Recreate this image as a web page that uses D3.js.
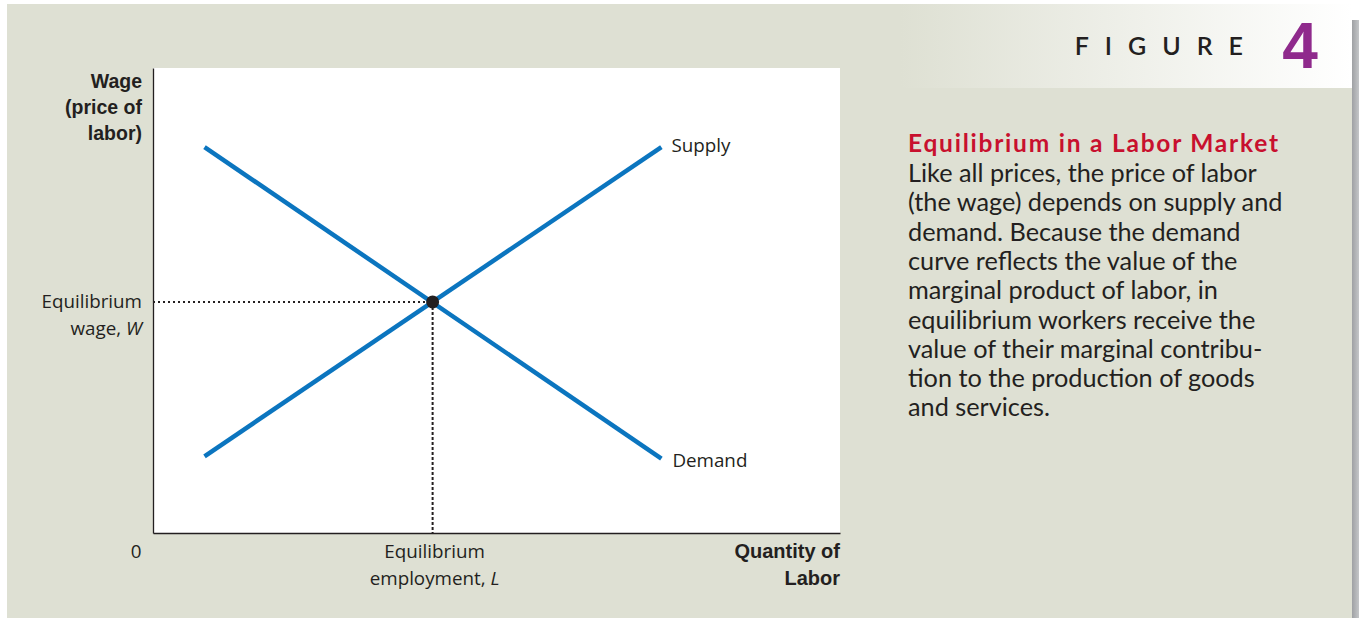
<!DOCTYPE html>
<html><head><meta charset="utf-8">
<script src="https://cdn.jsdelivr.net/npm/d3@7"></script>
<style>
html,body{margin:0;padding:0;background:#fff;}
svg{display:block;}
</style></head>
<body>
<svg id="chart" width="1359" height="618"></svg>
<script>
// ---- data ----
const quantityDomain = [0, 10];
const wageDomain = [0, 10];
const supplyQ = [0.75, 7.4];
const supplyW = [1.65, 8.3];
const demandQ = [0.75, 7.4];
const demandW = [8.3, 1.6];
const equilibrium = [4.07, 4.97];
const seriesNames = ["Supply", "Demand"];
const yAxisTitle = ["Wage", "(price of", "labor)"];
const xAxisTitle = ["Quantity of", "Labor"];
const eqWageLabel = ["Equilibrium", "wage, "];
const eqEmpLabel = ["Equilibrium", "employment, "];
const originLabel = "0";
const figureLabel = "FIGURE";
const figureNumber = "4";
const captionTitle = "Equilibrium in a Labor Market";
const captionLines = [
  "Like all prices, the price of labor",
  "(the wage) depends on supply and",
  "demand. Because the demand",
  "curve reflects the value of the",
  "marginal product of labor, in",
  "equilibrium workers receive the",
  "value of their marginal contribu-",
  "tion to the production of goods",
  "and services."
];

// ---- drawing ----
const svg = d3.select("#chart");
const W = 1359, H = 618;
const plot = {x0: 153, x1: 840, y0: 68, y1: 533};
const bg = "#dee0d3";
const blue = "#0b75bf";
const ink = "#231f20";

const defs = svg.append("defs");
const hg = defs.append("linearGradient").attr("id","hdr").attr("x1","0").attr("x2","1").attr("y1","0").attr("y2","0");
hg.append("stop").attr("offset","0").attr("stop-color",bg);
hg.append("stop").attr("offset","1").attr("stop-color","#ffffff");
const sg = defs.append("linearGradient").attr("id","shd").attr("x1","0").attr("x2","1");
sg.append("stop").attr("offset","0").attr("stop-color","#9fa1a4");
sg.append("stop").attr("offset","1").attr("stop-color","#c4c6c8");

svg.append("rect").attr("width",W).attr("height",H).attr("fill","#fff");
svg.append("rect").attr("x",7).attr("y",4).attr("width",1345).attr("height",614).attr("fill",bg);
svg.append("rect").attr("x",1352).attr("y",20).attr("width",7).attr("height",598).attr("fill","url(#shd)");
svg.append("rect").attr("x",900).attr("y",4).attr("width",452).attr("height",84).attr("fill","url(#hdr)");

// header
svg.append("text").attr("x",1259).attr("y",55).attr("text-anchor","end")
  .attr("font-family","Lato, 'Open Sans', sans-serif").attr("font-size",25).attr("font-weight",600)
  .attr("letter-spacing","16px").attr("fill",ink).text(figureLabel);
svg.append("text").attr("x",1300).attr("y",68).attr("text-anchor","middle")
  .attr("font-family","'Liberation Sans', Arial, sans-serif").attr("font-size",64).attr("font-weight",700)
  .attr("fill","#8f2a8c").text(figureNumber);

// plot bg
svg.append("rect").attr("x",plot.x0).attr("y",plot.y0).attr("width",plot.x1-plot.x0).attr("height",plot.y1-plot.y0).attr("fill","#fff");

const x = d3.scaleLinear().domain(quantityDomain).range([plot.x0, plot.x1]);
const y = d3.scaleLinear().domain(wageDomain).range([plot.y1, plot.y0]);

// axes
const gx = svg.append("g").attr("transform",`translate(0,${plot.y1})`)
  .call(d3.axisBottom(x).tickValues([]).tickSizeOuter(0));
const gy = svg.append("g").attr("transform",`translate(${plot.x0},0)`)
  .call(d3.axisLeft(y).tickValues([]).tickSizeOuter(0));
[gx,gy].forEach(g=>g.select(".domain").attr("stroke",ink).attr("stroke-width",1.3));

// dotted guides
const ex = x(equilibrium[0]), ey = y(equilibrium[1]);
svg.append("line").attr("x1",x(0)).attr("x2",ex).attr("y1",ey).attr("y2",ey)
  .attr("stroke",ink).attr("stroke-width",2).attr("stroke-dasharray","2,3");
svg.append("line").attr("x1",ex).attr("x2",ex).attr("y1",ey).attr("y2",y(0))
  .attr("stroke",ink).attr("stroke-width",2).attr("stroke-dasharray","3,2");

// curves
const line = d3.line().x(d=>x(d[0])).y(d=>y(d[1]));
const supply = supplyQ.map((q,i)=>[q,supplyW[i]]);
const demand = demandQ.map((q,i)=>[q,demandW[i]]);
[supply,demand].forEach(d=>{
  svg.append("path").datum(d).attr("d",line).attr("fill","none")
    .attr("stroke",blue).attr("stroke-width",4.5);
});
svg.append("circle").attr("cx",ex).attr("cy",ey).attr("r",6.5).attr("fill",ink);

const lab = "'Open Sans', 'Liberation Sans', sans-serif";
const labSize = 18.8;
// series labels
svg.append("text").attr("x",x(supplyQ[1])+10).attr("y",y(supplyW[1])+5)
  .attr("font-family",lab).attr("font-size",labSize).attr("fill",ink).text(seriesNames[0]);
svg.append("text").attr("x",x(demandQ[1])+11).attr("y",y(demandW[1])+8)
  .attr("font-family",lab).attr("font-size",labSize).attr("fill",ink).text(seriesNames[1]);

// y title
const yt = svg.append("text").attr("text-anchor","end").attr("font-family","'Liberation Sans', Arial, sans-serif")
  .attr("font-weight",700).attr("font-size",19.5).attr("fill",ink);
yAxisTitle.forEach((t,i)=>yt.append("tspan").attr("x",142).attr("y",88+i*26).text(t));

// eq wage label
const ew = svg.append("text").attr("text-anchor","end").attr("font-family",lab).attr("font-size",labSize).attr("fill",ink);
ew.append("tspan").attr("x",142).attr("y",ey+6).text(eqWageLabel[0]);
ew.append("tspan").attr("x",142).attr("y",ey+33).text(eqWageLabel[1]);
ew.append("tspan").attr("font-style","italic").text("W");

// origin
svg.append("text").attr("x",136).attr("y",558).attr("text-anchor","middle")
  .attr("font-family",lab).attr("font-size",labSize).attr("fill",ink).text(originLabel);

// eq employment label
const ee = svg.append("text").attr("text-anchor","middle").attr("font-family",lab).attr("font-size",labSize).attr("fill",ink);
ee.append("tspan").attr("x",ex+2).attr("y",558).text(eqEmpLabel[0]);
ee.append("tspan").attr("x",ex+2).attr("y",585).text(eqEmpLabel[1]).append("tspan").attr("font-style","italic").text("L");

// x title
const xt = svg.append("text").attr("text-anchor","end").attr("font-family","'Liberation Sans', Arial, sans-serif")
  .attr("font-weight",700).attr("font-size",20).attr("fill",ink);
xAxisTitle.forEach((t,i)=>xt.append("tspan").attr("x",plot.x1).attr("y",558+i*27).text(t));

// caption title: fixed size, spacing widened to reach reference width
const ct = svg.append("text").attr("x",908).attr("y",152).attr("font-family","Lato, 'Open Sans', sans-serif")
  .attr("font-weight",700).attr("font-size",24.5).attr("fill","#c8102e").text(captionTitle);
const tw = ct.node().getComputedTextLength();
if (tw > 0 && tw < 370) ct.attr("letter-spacing", ((370 - tw) / (captionTitle.length - 1)).toFixed(2) + "px");

const cap = svg.append("text").attr("font-family","Lato, 'Open Sans', sans-serif").attr("font-size",22.5).attr("fill",ink);
captionLines.forEach((t,i)=>cap.append("tspan").attr("x",908).attr("y",182+i*29.3).text(t));
const probe = svg.append("text").attr("font-family","Lato, 'Open Sans', sans-serif").attr("font-size",22.5).text(captionLines[0]);
const pw = probe.node().getComputedTextLength();
probe.remove();
if (pw > 0) cap.attr("font-size", (22.5 * 349 / pw).toFixed(2));
</script>
</body></html>
